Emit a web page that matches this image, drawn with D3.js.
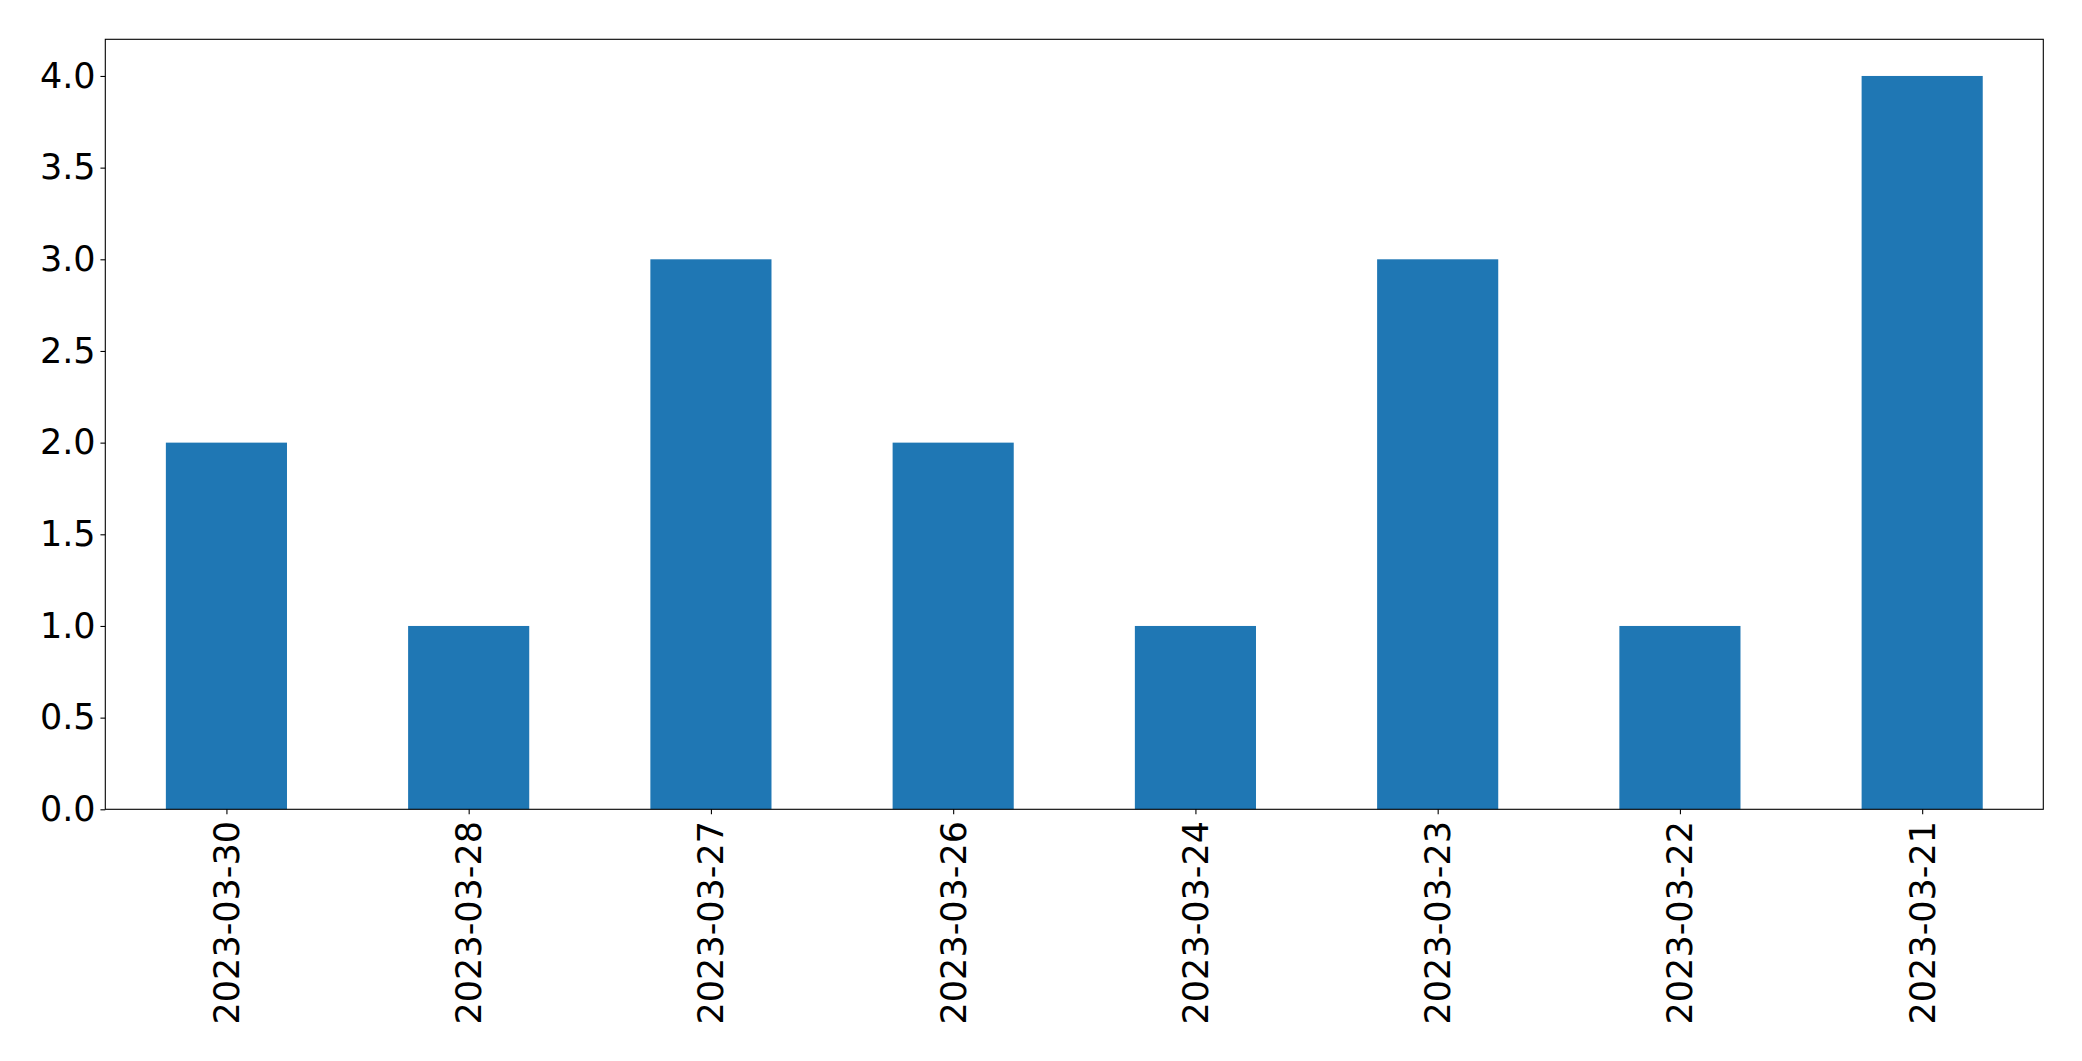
<!DOCTYPE html>
<html>
<head>
<meta charset="utf-8">
<script src="https://cdn.jsdelivr.net/npm/d3@7"></script>
<style>
  html, body { margin: 0; padding: 0; background: #fff; }
  svg { display: block; }
  text { font-family: "DejaVu Sans", sans-serif; }
</style>
</head>
<body>
<svg id="chart" width="2082" height="1061"></svg>
<script>
const categories = ["2023-03-30", "2023-03-28", "2023-03-27", "2023-03-26", "2023-03-24", "2023-03-23", "2023-03-22", "2023-03-21"];
const values = [2, 1, 3, 2, 1, 3, 1, 4];
const yTicks = [0, 0.5, 1, 1.5, 2, 2.5, 3, 3.5, 4];

const W = 2082, H = 1061;
const m = { left: 105.3, top: 39.3, right: 2043.3, bottom: 809.3 };
const svg = d3.select("#chart");
const fontSize = 35;
const tickLen = 4.86, tickPad = 4.86;

const x = d3.scaleLinear().domain([-0.5, categories.length - 0.5]).range([m.left, m.right]);
const y = d3.scaleLinear().domain([0, 4.2]).range([m.bottom, m.top]);

// bars
svg.append("g").selectAll("rect").data(values).join("rect")
  .attr("x", (d, i) => x(i - 0.25))
  .attr("width", (d, i) => x(i + 0.25) - x(i - 0.25))
  .attr("y", d => y(d))
  .attr("height", d => y(0) - y(d))
  .attr("fill", "#1f77b4");

// y axis
const yAxis = d3.axisLeft(y).tickValues(yTicks).tickFormat(d3.format(".1f"))
  .tickSizeInner(tickLen).tickSizeOuter(0).tickPadding(tickPad);
const gy = svg.append("g").attr("transform", `translate(${m.left},0)`).call(yAxis);
gy.select(".domain").remove();
gy.selectAll("line").attr("stroke", "#000").attr("stroke-width", 1.1);
gy.selectAll("text").attr("font-size", fontSize).attr("fill", "#000")
  .attr("font-family", "DejaVu Sans, sans-serif");

// x axis
const xAxis = d3.axisBottom(x).tickValues(d3.range(categories.length)).tickFormat(i => categories[i])
  .tickSizeInner(tickLen).tickSizeOuter(0).tickPadding(tickPad);
const gx = svg.append("g").attr("transform", `translate(0,${m.bottom})`).call(xAxis);
gx.select(".domain").remove();
gx.selectAll("line").attr("stroke", "#000").attr("stroke-width", 1.1);
gx.selectAll("text")
  .attr("font-size", fontSize).attr("fill", "#000")
  .attr("font-family", "DejaVu Sans, sans-serif")
  .attr("x", 0).attr("y", 0).attr("dy", null)
  .attr("text-anchor", "end")
  .attr("dominant-baseline", "central")
  .attr("transform", `translate(0,${tickLen + tickPad + 2}) rotate(-90)`);

// frame
svg.append("rect")
  .attr("x", m.left).attr("y", m.top)
  .attr("width", m.right - m.left).attr("height", m.bottom - m.top)
  .attr("fill", "none").attr("stroke", "#000").attr("stroke-width", 1.1);
</script>
</body>
</html>
